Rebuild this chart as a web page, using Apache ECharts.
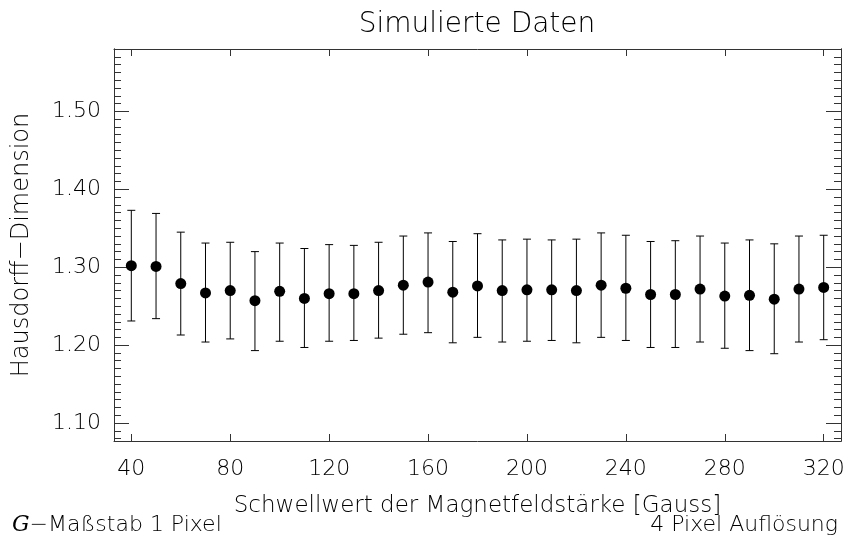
<!DOCTYPE html>
<html>
<head>
<meta charset="utf-8">
<script src="https://cdn.jsdelivr.net/npm/echarts@6/dist/echarts.min.js"></script>
<style>
  html, body { margin: 0; padding: 0; background: #fff; }
  #chart { width: 850px; height: 542px; }
</style>
</head>
<body>
<div id="chart"></div>
<script>
  // Schwellwert [Gauss]
  var thresholds = [40, 50, 60, 70, 80, 90, 100, 110, 120, 130, 140, 150, 160, 170, 180,
                    190, 200, 210, 220, 230, 240, 250, 260, 270, 280, 290, 300, 310, 320];
  // Hausdorff-Dimension, Mittelwert
  var dimension = [1.302, 1.301, 1.279, 1.267, 1.270, 1.257, 1.269, 1.260, 1.266, 1.266,
                   1.270, 1.277, 1.281, 1.268, 1.276, 1.270, 1.271, 1.271, 1.270, 1.277,
                   1.273, 1.265, 1.265, 1.272, 1.263, 1.264, 1.259, 1.272, 1.274];
  // Fehlerbalken oben / unten
  var upper = [1.373, 1.369, 1.345, 1.331, 1.332, 1.320, 1.331, 1.324, 1.329, 1.328,
               1.332, 1.340, 1.344, 1.333, 1.343, 1.335, 1.336, 1.335, 1.336, 1.344,
               1.341, 1.333, 1.334, 1.340, 1.331, 1.335, 1.330, 1.340, 1.341];
  var lower = [1.231, 1.234, 1.213, 1.204, 1.208, 1.193, 1.205, 1.197, 1.205, 1.206,
               1.209, 1.214, 1.216, 1.203, 1.210, 1.204, 1.205, 1.206, 1.203, 1.210,
               1.206, 1.197, 1.197, 1.204, 1.196, 1.193, 1.189, 1.204, 1.207];

  var xTicks = [40, 80, 120, 160, 200, 240, 280, 320];
  var yMajor = [1.10, 1.20, 1.30, 1.40, 1.50];
  var yMinor = [];
  for (var k = 108; k <= 158; k++) yMinor.push(k / 100);

  var font = 'DejaVu Sans';
  var weight = 200;
  var textCol = '#000';
  var lineCol = '#333';

  var myChart = echarts.init(document.getElementById('chart'));

  function xAxisDef(pos, labels) {
    return {
      type: 'value', position: pos, min: 33, max: 327,
      axisLine: { show: true, lineStyle: { color: lineCol, width: 1 } },
      axisTick: { show: true, inside: true, length: 7, customValues: xTicks, lineStyle: { color: lineCol } },
      axisLabel: labels ? { show: true, customValues: xTicks, margin: 17, fontSize: 22, fontFamily: font, fontWeight: weight, color: textCol } : { show: false },
      splitLine: { show: false },
      name: labels ? 'Schwellwert der Magnetfeldstärke [Gauss]' : '',
      nameLocation: 'middle', nameGap: 54,
      nameTextStyle: { fontSize: 23, fontFamily: font, fontWeight: weight, color: textCol }
    };
  }

  function yAxisDef(pos, ticks, len, labels, name) {
    return {
      type: 'value', position: pos, min: 1.077, max: 1.58,
      axisLine: { show: true, lineStyle: { color: lineCol, width: 1 } },
      axisTick: { show: true, inside: true, length: len, customValues: ticks, lineStyle: { color: lineCol } },
      axisLabel: labels ? {
        show: true, customValues: ticks, margin: 13, fontSize: 22, fontFamily: font, fontWeight: weight, color: textCol,
        formatter: function (v) { return v.toFixed(2); }
      } : { show: false },
      splitLine: { show: false },
      name: name || '',
      nameLocation: 'middle', nameGap: 80,
      nameTextStyle: { fontSize: 24, fontFamily: font, fontWeight: weight, color: textCol }
    };
  }

  myChart.setOption({
    animation: false,
    grid: { left: 114, right: 9, top: 49, bottom: 101 },
    xAxis: [xAxisDef('bottom', true), xAxisDef('top', false)],
    yAxis: [
      yAxisDef('left', yMajor, 15, true, 'Hausdorff\u2212Dimension'),
      yAxisDef('left', yMinor, 7, false),
      yAxisDef('right', yMajor, 15, false),
      yAxisDef('right', yMinor, 7, false)
    ],
    graphic: [
      {
        type: 'text', x: 477, y: 25,
        style: {
          text: 'Simulierte Daten', align: 'center', verticalAlign: 'middle',
          fontSize: 28, fontFamily: font, fontWeight: weight, fill: textCol
        }
      },
      {
        type: 'text', left: 12, top: 514,
        style: {
          text: '{g|G}\u2212Maßstab 1 Pixel',
          fontSize: 22, fontFamily: font, fontWeight: weight, fill: textCol,
          rich: { g: { fontStyle: 'italic', fontWeight: 'normal', fontFamily: 'DejaVu Serif', fontSize: 22, fill: textCol } }
        }
      },
      {
        type: 'text', right: 12, top: 514,
        style: { text: '4 Pixel Auflösung', fontSize: 22, fontFamily: font, fontWeight: weight, fill: textCol }
      }
    ],
    series: [
      {
        type: 'custom',
        xAxisIndex: 0, yAxisIndex: 0,
        data: thresholds.map(function (x, i) { return [x, lower[i], upper[i]]; }),
        encode: { x: 0, y: [1, 2] },
        renderItem: function (params, api) {
          var x = api.value(0);
          var top = api.coord([x, api.value(2)]);
          var bot = api.coord([x, api.value(1)]);
          var w = 4;
          var st = { stroke: '#000', lineWidth: 1 };
          return {
            type: 'group',
            children: [
              { type: 'line', shape: { x1: top[0], y1: top[1], x2: bot[0], y2: bot[1] }, style: st },
              { type: 'line', shape: { x1: top[0] - w, y1: top[1], x2: top[0] + w, y2: top[1] }, style: st },
              { type: 'line', shape: { x1: bot[0] - w, y1: bot[1], x2: bot[0] + w, y2: bot[1] }, style: st }
            ]
          };
        }
      },
      {
        type: 'scatter',
        xAxisIndex: 0, yAxisIndex: 0,
        symbol: 'circle', symbolSize: 11,
        itemStyle: { color: '#000', opacity: 1 },
        z: 3,
        data: thresholds.map(function (x, i) { return [x, dimension[i]]; })
      }
    ]
  });
</script>
</body>
</html>
